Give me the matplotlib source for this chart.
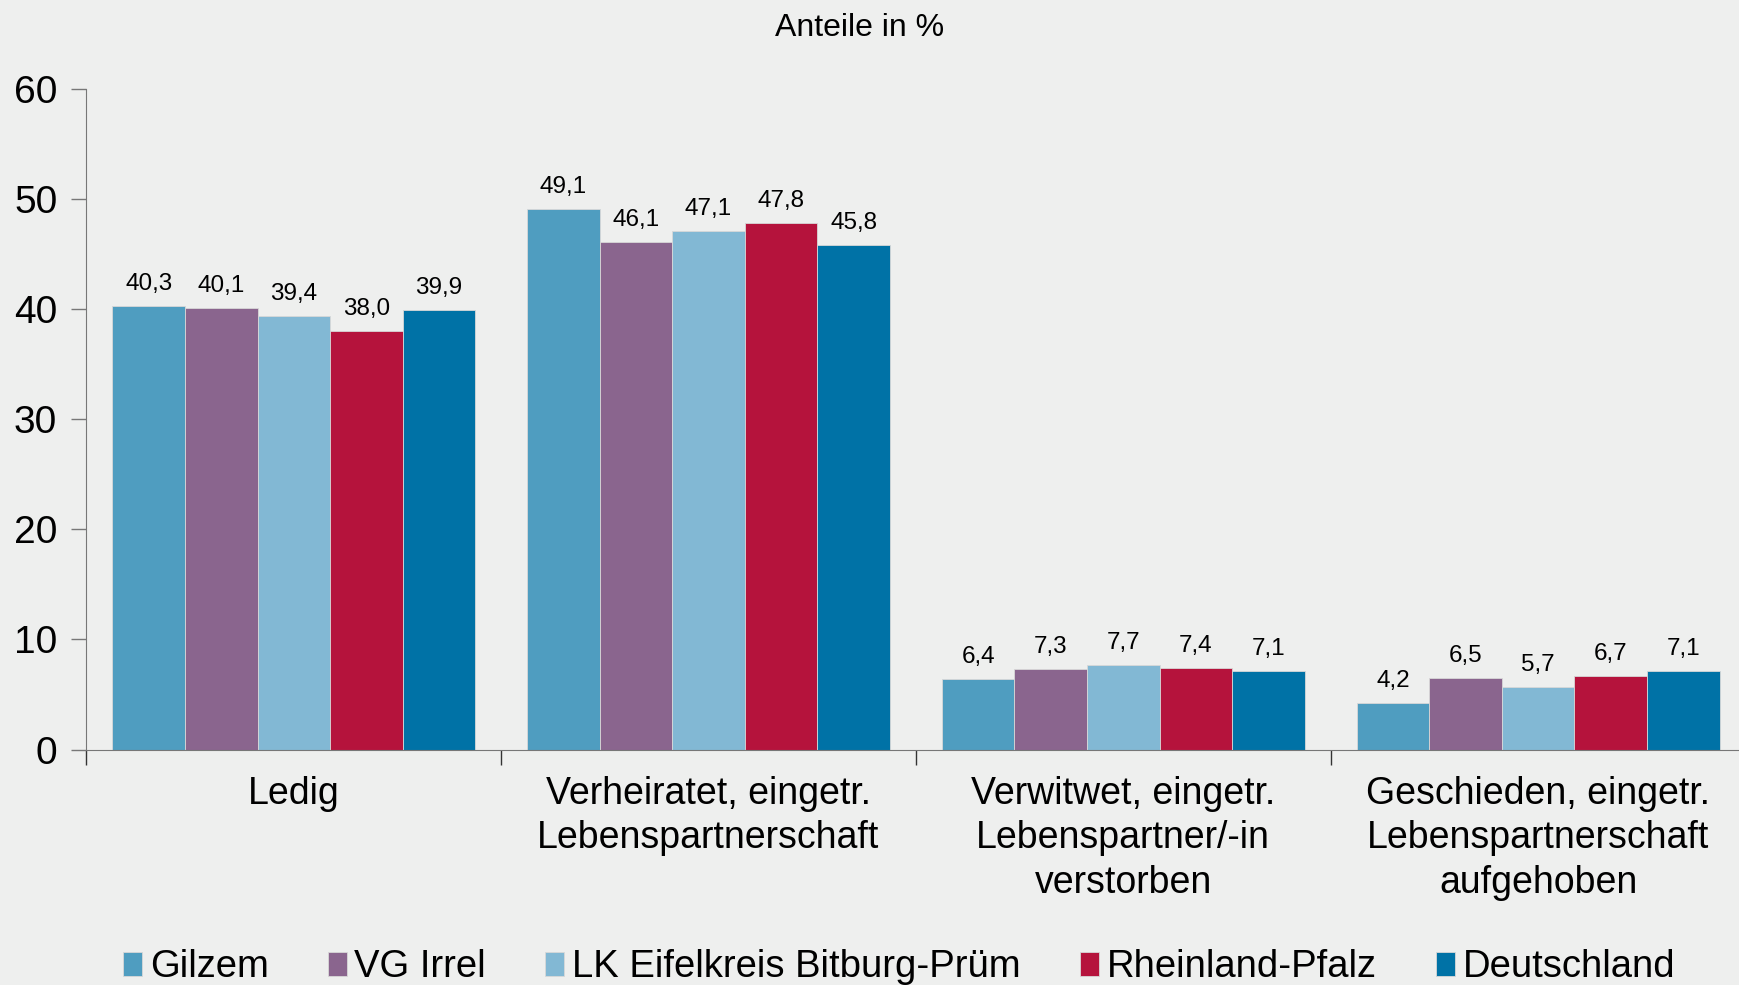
import numpy as np
import matplotlib
matplotlib.use("Agg")
import matplotlib.pyplot as plt

plt.rcParams['font.family'] = ['Liberation Sans', 'DejaVu Sans']

categories = ["Ledig",
              "Verheiratet, eingetr.\nLebenspartnerschaft",
              "Verwitwet, eingetr.\nLebenspartner/-in\nverstorben",
              "Geschieden, eingetr.\nLebenspartnerschaft\naufgehoben"]
series = ["Gilzem", "VG Irrel", "LK Eifelkreis Bitburg-Prüm", "Rheinland-Pfalz", "Deutschland"]
values = [
    [40.3, 49.1, 6.4, 4.2],
    [40.1, 46.1, 7.3, 6.5],
    [39.4, 47.1, 7.7, 5.7],
    [38.0, 47.8, 7.4, 6.7],
    [39.9, 45.8, 7.1, 7.1],
]
colors = ["#4f9dc0", "#8a658e", "#82b8d4", "#b5133c", "#0072a6"]
bg = "#eeefee"

fig = plt.figure(figsize=(17.39, 9.85), dpi=100, facecolor=bg)
ax = fig.add_axes([0.0497, 0.239, 0.954, 0.671], facecolor=bg)

x = np.arange(len(categories))
w = 0.175
for i, (name, vals) in enumerate(zip(series, values)):
    pos = x + (i - 2) * w
    ax.bar(pos, vals, width=w, color=colors[i], edgecolor="#d8d8d8", linewidth=0.6, label=name)
    for px, v in zip(pos, vals):
        ax.text(px, v + 1.0, f"{v:.1f}".replace(".", ","), ha="center", va="bottom", fontsize=17.5)

ax.set_xlim(-0.5, 3.5)
ax.set_ylim(0, 60)
ax.set_yticks(range(0, 61, 10))
ax.tick_params(axis="y", labelsize=28, length=11, width=1, color="#777777", pad=10)
ax.set_xticks(x)
ax.set_xticklabels(categories, fontsize=27, linespacing=1.3)
ax.tick_params(axis="x", which="major", length=0, pad=19)
ax.set_xticks(np.arange(-0.5, 3.6, 1), minor=True)
ax.tick_params(axis="x", which="minor", length=11, width=1, color="#333333", direction="out")

for s in ["top", "right"]:
    ax.spines[s].set_visible(False)
ax.spines["left"].set_color("#777777")
ax.spines["bottom"].set_color("#777777")

fig.text(0.494, 0.972, "Anteile in %", ha="center", va="center", fontsize=23)

fig.legend(loc="lower center", bbox_to_anchor=(0.517, -0.035), ncol=5, frameon=False,
           fontsize=27.5, handlelength=0.5, handleheight=0.6, handletextpad=0.2,
           columnspacing=1.55)

fig.savefig("out.png", dpi=100, facecolor=bg)
